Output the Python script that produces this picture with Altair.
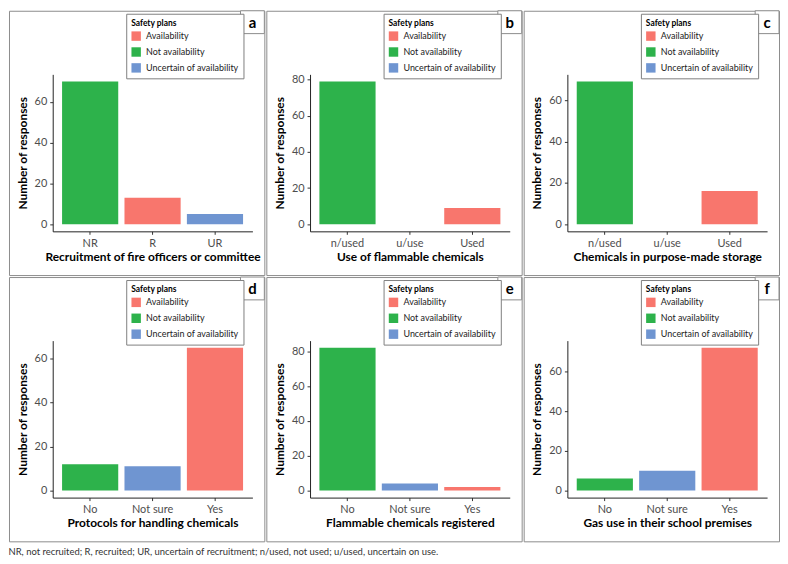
import altair as alt
import pandas as pd

letters = ["a", "b", "c", "d", "e", "f"]
x_titles = [
    "Recruitment of fire officers or committee",
    "Use of flammable chemicals",
    "Chemicals in purpose-made storage",
    "Protocols for handling chemicals",
    "Flammable chemicals registered",
    "Gas use in their school premises",
]
axis_categories = [
    ["NR", "R", "UR"],
    ["n/used", "u/use", "Used"],
    ["n/used", "u/use", "Used"],
    ["No", "Not sure", "Yes"],
    ["No", "Not sure", "Yes"],
    ["No", "Not sure", "Yes"],
]
bar_categories = [
    ["NR", "R", "UR"],
    ["n/used", "Used"],
    ["n/used", "Used"],
    ["No", "Not sure", "Yes"],
    ["No", "Not sure", "Yes"],
    ["No", "Not sure", "Yes"],
]
counts = [
    [70, 13, 5],
    [79, 9],
    [69, 16],
    [12, 11, 65],
    [82, 4, 2],
    [6, 10, 72],
]
AV, NA, UN = "Availability", "Not availability", "Uncertain of availability"
plans = [
    [NA, AV, UN],
    [NA, AV],
    [NA, AV],
    [NA, UN, AV],
    [NA, UN, AV],
    [NA, UN, AV],
]
y_ticks = [
    [0, 20, 40, 60],
    [0, 20, 40, 60, 80],
    [0, 20, 40, 60],
    [0, 20, 40, 60],
    [0, 20, 40, 60, 80],
    [0, 20, 40, 60],
]
legend_labels = [AV, NA, UN]
legend_colors = ["#F8766D", "#2DB24B", "#6F95D1"]
footnote = ("NR, not recruited; R, recruited; UR, uncertain of recruitment; "
            "n/used, not used; u/used, uncertain on use.")

W, H = 257, 266
X0, X1 = 44, 245
YB, YT = 222, 64
FONT = "Lato"


def panel(i):
    df = pd.DataFrame({"cat": bar_categories[i], "n": counts[i], "plan": plans[i]})
    top = max(counts[i])
    pad = top * 0.05
    bars = alt.Chart(df).mark_bar().encode(
        x=alt.X(
            "cat:N",
            scale=alt.Scale(domain=axis_categories[i], range=[X0, X1],
                            paddingInner=0.1, paddingOuter=0.15),
            axis=alt.Axis(title=x_titles[i], offset=-(H - YB), labelAngle=0,
                          titlePadding=3),
        ),
        y=alt.Y(
            "n:Q",
            scale=alt.Scale(domain=[-pad, top + pad], range=[YB, YT], nice=False, zero=False),
            axis=alt.Axis(title="Number of responses", values=y_ticks[i], offset=-X0,
                          titlePadding=5),
        ),
        y2=alt.datum(0),
        color=alt.Color(
            "plan:N",
            scale=alt.Scale(domain=legend_labels, range=legend_colors),
            legend=alt.Legend(title="Safety plans", orient="none", legendX=118, legendY=3),
        ),
    )
    lab_df = pd.DataFrame({"letter": [letters[i]]})
    box = alt.Chart(lab_df).mark_rect(fill="white", stroke="#8c8c8c", strokeWidth=1).encode(
        x=alt.value(W - 24), x2=alt.value(W), y=alt.value(0), y2=alt.value(23)
    )
    txt = alt.Chart(lab_df).mark_text(
        fontSize=15, fontWeight="bold", baseline="middle", align="center", font=FONT, color="black"
    ).encode(x=alt.value(W - 12), y=alt.value(12), text="letter:N")
    return alt.layer(bars, box, txt).properties(width=W, height=H)


chart = (
    alt.concat(*[panel(i) for i in range(6)], columns=3, spacing=0)
    .resolve_scale(color="independent")
    .resolve_legend(color="independent")
    .properties(
        padding=0,
        title=alt.TitleParams(text=footnote, orient="bottom", anchor="start", fontSize=9.5,
                              fontWeight="normal", color="#333333", offset=5, font=FONT),
    )
    .configure(font=FONT)
    .configure_view(stroke="#8c8c8c", strokeWidth=1)
    .configure_axis(
        grid=False, domainColor="#222222", domainWidth=1, tickColor="#333333", tickSize=3,
        labelFontSize=11, labelColor="#4d4d4d", labelPadding=3, labelFont=FONT,
        titleFontSize=12, titleFontWeight="bold", titleColor="black", titleFont=FONT,
    )
    .configure_legend(
        strokeColor="#7f7f7f", fillColor="white", padding=5, cornerRadius=0,
        titleFontSize=8.5, titleFontWeight="bold", titleColor="black", titlePadding=4,
        labelFontSize=9, labelColor="#222222", labelOffset=5,
        symbolType="square", symbolSize=90, symbolStrokeWidth=0, rowPadding=6,
        titleFont=FONT, labelFont=FONT,
    )
)

chart.save("out.html", embed_options={"renderer": "svg", "actions": False})
